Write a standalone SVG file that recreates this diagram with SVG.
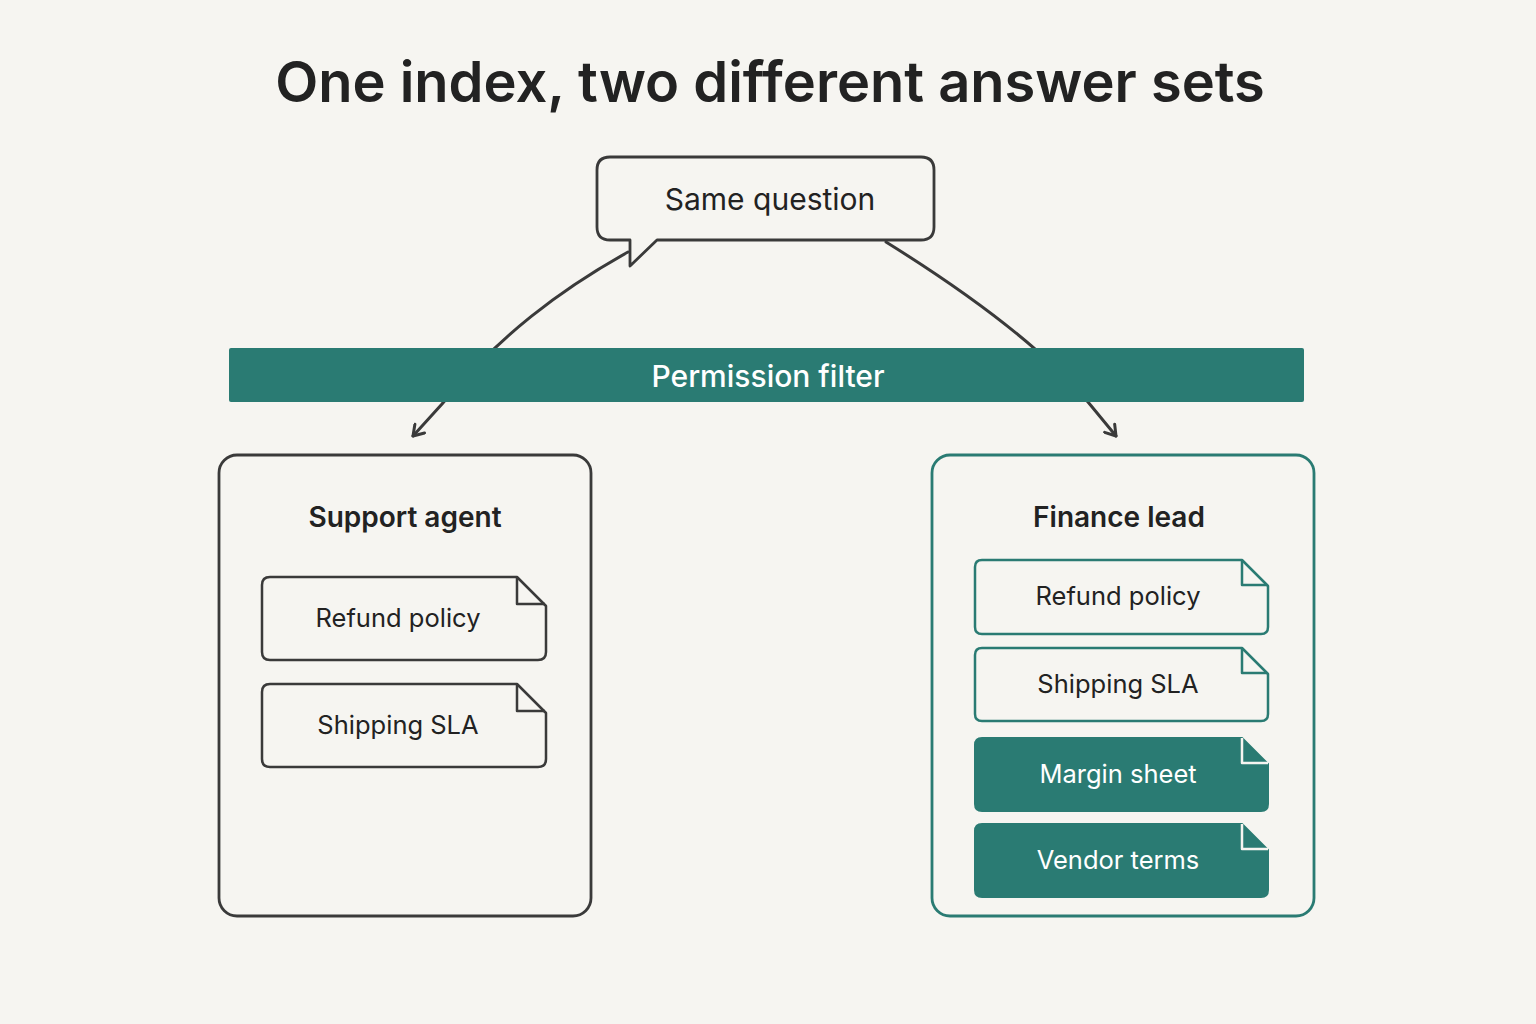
<svg xmlns="http://www.w3.org/2000/svg" width="1536" height="1024" viewBox="0 0 1536 1024">
<defs>
<style>
.t{font-family:Inter,"Noto Sans","Liberation Sans",sans-serif;fill:#222;text-anchor:middle}
.title{font-size:56px;font-weight:600}
.h{font-size:28px;font-weight:600}
.lbl{font-size:25.5px;font-weight:400}
.w{fill:#fff}
.line{fill:none;stroke:#3a3a3a;stroke-width:3;stroke-linecap:round}
.doc{fill:#f6f5f1;stroke:#3a3a3a;stroke-width:2.5;stroke-linejoin:round}
.tdoc{fill:#f6f5f1;stroke:#2a7b73;stroke-width:2.5;stroke-linejoin:round}
.fdoc{fill:#2a7b73;stroke:#2a7b73;stroke-width:2;stroke-linejoin:round}
.fold{fill:none;stroke-width:2.5;stroke-linejoin:round}
</style>
<marker id="arr" markerWidth="16" markerHeight="16" refX="12" refY="8" orient="auto" markerUnits="userSpaceOnUse">
<path d="M2,1.5 L12,8 L2,14.5" fill="none" stroke="#3a3a3a" stroke-width="3" stroke-linecap="round" stroke-linejoin="round"/>
</marker>
</defs>
<rect width="1536" height="1024" fill="#f6f5f1"/>
<text class="t title" x="770" y="102">One index, two different answer sets</text>

<g id="connectors">
<path class="line" d="M628,252 C560,290 500,335 442,404 L413,436" marker-end="url(#arr)"/>
<path class="line" d="M886,242 C960,288 1040,345 1088,402 L1116,436" marker-end="url(#arr)"/>
</g>

<g id="question">
<path d="M610,157 H921 Q934,157 934,170 V227 Q934,240 921,240 H657 L630,266 V240 H610 Q597,240 597,227 V170 Q597,157 610,157 Z" fill="#f6f5f1" stroke="#3a3a3a" stroke-width="2.8" stroke-linejoin="round"/>
<text class="t" x="770" y="210" font-size="30">Same question</text>
</g>

<g id="filter">
<rect x="229" y="348" width="1075" height="54" rx="2" fill="#2a7b73"/>
<text class="t w" x="768" y="387" font-size="30" font-weight="500">Permission filter</text>
</g>

<g id="support">
<rect x="219" y="455" width="372" height="461" rx="18" fill="none" stroke="#3a3a3a" stroke-width="2.8"/>
<text class="t h" x="405" y="527">Support agent</text>
</g>
<g id="s-refund">
<path class="doc" d="M270,577 H517 L546,606 V652 Q546,660 538,660 H270 Q262,660 262,652 V585 Q262,577 270,577 Z"/>
<path class="fold" stroke="#3a3a3a" d="M517,577 V604 H545"/>
<text class="t lbl" x="398" y="627">Refund policy</text>
</g>
<g id="s-shipping">
<path class="doc" d="M270,684 H517 L546,713 V759 Q546,767 538,767 H270 Q262,767 262,759 V692 Q262,684 270,684 Z"/>
<path class="fold" stroke="#3a3a3a" d="M517,684 V711 H545"/>
<text class="t lbl" x="398" y="734">Shipping SLA</text>
</g>

<g id="finance">
<rect x="932" y="455" width="382" height="461" rx="18" fill="none" stroke="#2a7b73" stroke-width="2.8"/>
<text class="t h" x="1119" y="527">Finance lead</text>
</g>
<g id="f-refund">
<path class="tdoc" d="M982,560 H1242 L1268,586 V627 Q1268,634 1261,634 H982 Q975,634 975,627 V567 Q975,560 982,560 Z"/>
<path class="fold" stroke="#2a7b73" d="M1242,560 V585 H1267"/>
<text class="t lbl" x="1118" y="605">Refund policy</text>
</g>
<g id="f-shipping">
<path class="tdoc" d="M982,648 H1242 L1268,674 V714 Q1268,721 1261,721 H982 Q975,721 975,714 V655 Q975,648 982,648 Z"/>
<path class="fold" stroke="#2a7b73" d="M1242,648 V673 H1267"/>
<text class="t lbl" x="1118" y="693">Shipping SLA</text>
</g>
<g id="f-margin">
<path class="fdoc" d="M982,738 H1242 L1268,764 V804 Q1268,811 1261,811 H982 Q975,811 975,804 V745 Q975,738 982,738 Z"/>
<path class="fold" stroke="#f6f5f1" d="M1242,738 V763 H1268"/>
<text class="t lbl w" x="1118" y="783">Margin sheet</text>
</g>
<g id="f-vendor">
<path class="fdoc" d="M982,824 H1242 L1268,850 V890 Q1268,897 1261,897 H982 Q975,897 975,890 V831 Q975,824 982,824 Z"/>
<path class="fold" stroke="#f6f5f1" d="M1242,824 V849 H1268"/>
<text class="t lbl w" x="1118" y="869">Vendor terms</text>
</g>
</svg>
